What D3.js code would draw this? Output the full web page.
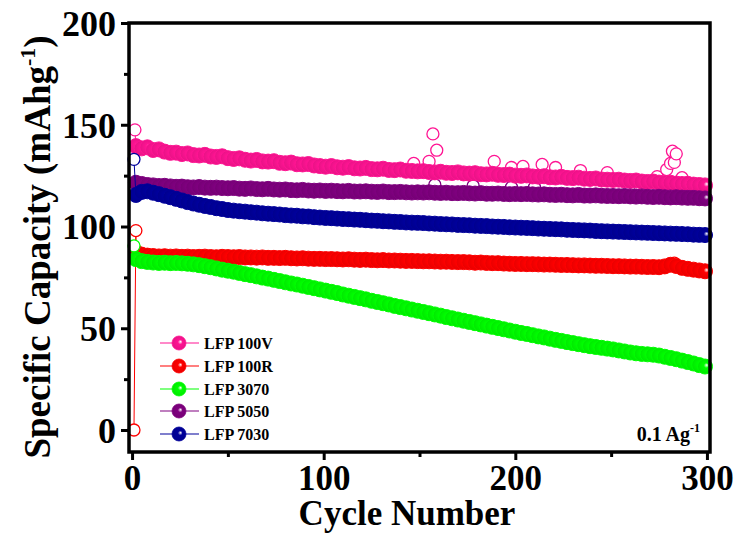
<!DOCTYPE html>
<html><head><meta charset="utf-8">
<script src="https://cdn.jsdelivr.net/npm/d3@7"></script>
<style>body{margin:0;background:#fff}svg{display:block}</style>
</head><body>
<svg id="c" width="739" height="536"></svg>
<script>
const cycles = [2,5,8,11,14,17,20,23,26,29,32,35,38,41,44,47,50,53,56,59,62,65,68,71,74,77,80,83,86,89,92,95,98,101,104,107,110,113,116,119,122,125,128,131,134,137,140,143,146,149,152,155,158,161,164,167,170,173,176,179,182,185,188,191,194,197,200,203,206,209,212,215,218,221,224,227,230,233,236,239,242,245,248,251,254,257,260,263,266,269,272,275,278,281,284,287,290,293,296,299];
const seriesNames = ["LFP 100V","LFP 100R","LFP 3070","LFP 5050","LFP 7030"];
const seriesColors = ["#ff1493","#ff0000","#00ff00","#800080","#00009c"];
const lfp100V = [139.5,138.4,138.9,137.6,137.9,136.8,136.2,
 136.3,135.6,135.9,135.1,134.9,135.2,134.4,134.2,134.5,133.6,
 133.2,133.5,132.8,132.4,132.7,132.0,131.9,132.1,131.3,131.1,131.4,130.6,130.5,130.7,130.0,129.7,
 129.4,129.7,129.1,128.9,129.2,128.6,128.5,128.8,128.2,128.1,128.4,127.8,127.7,128.0,127.4,127.3,127.1,
 127.2,126.8,126.6,126.9,126.4,126.3,126.6,126.1,126.0,126.2,125.7,125.6,125.9,125.4,125.3,125.5,125.0,
 124.9,125.1,124.6,124.5,124.7,124.2,124.1,124.4,123.9,123.8,124.0,123.5,123.4,123.6,123.1,123.0,122.9,
 123.0,122.6,122.4,122.6,122.1,121.9,122.1,121.6,121.4,121.5,121.1,120.9,121.0,120.6,120.4,120.2];
const lfp100R = [87.5,86.2,85.7,85.5,
 85.3,85.4,85.2,85.3,85.1,85.2,85.0,85.1,85.2,85.0,84.9,85.1,85.0,
 84.9,85.0,84.8,84.8,84.7,84.8,84.6,84.6,84.5,84.6,84.4,84.3,84.4,84.2,84.1,84.1,
 84.0,84.0,83.9,83.8,83.9,83.7,83.6,83.7,83.5,83.4,83.5,83.3,83.3,83.2,83.1,83.1,83.0,
 82.9,82.9,82.8,82.7,82.7,82.6,82.5,82.5,82.4,82.2,82.3,82.1,82.0,82.0,81.8,81.7,81.6,
 81.6,81.5,81.5,81.4,81.3,81.3,81.2,81.1,81.1,81.0,80.9,80.9,80.8,80.7,80.7,80.6,80.5,
 80.5,80.4,80.3,80.3,80.2,80.1,80.1,80.0,80.4,81.2,80.6,79.7,79.2,78.8,78.4,78.0];
const lfp3070 = [84.0,83.0,82.6,82.3,
 82.1,82.2,82.0,82.1,81.9,81.7,
 81.4,81.0,80.5,80.0,79.4,78.8,78.3,
 77.8,77.2,76.6,76.1,75.5,74.9,74.4,73.8,73.2,72.6,72.0,71.5,70.9,70.3,69.7,69.1,
 68.5,67.9,67.3,66.6,66.0,65.4,64.8,64.2,63.5,62.9,62.3,61.7,61.0,60.4,59.8,59.2,58.6,
 58.0,57.4,56.8,56.2,55.5,54.9,54.3,53.7,53.1,52.5,51.9,51.3,50.7,50.1,49.5,48.9,48.3,
 47.7,47.2,46.6,46.0,45.5,44.9,44.3,43.8,43.2,42.7,42.2,41.7,41.2,40.8,40.4,40.0,39.6,
 39.1,38.6,38.1,37.7,37.4,37.2,37.0,36.6,36.0,35.4,34.8,34.1,33.4,32.7,31.9,31.2];
const lfp5050 = [121.5,120.9,120.4,120.2,
 119.9,120.0,119.7,119.5,119.6,119.3,119.2,119.4,119.1,119.0,
 119.1,118.9,118.8,118.9,118.6,118.5,118.7,118.4,118.3,118.5,118.2,118.1,118.2,117.9,117.8,118.0,117.7,117.6,117.7,
 117.5,117.6,117.4,117.3,117.5,117.2,117.2,117.3,117.1,117.0,117.2,116.9,116.9,117.0,116.8,116.7,116.8,
 116.7,116.8,116.6,116.5,116.6,116.4,116.4,116.5,116.3,116.2,116.4,116.1,116.1,116.2,116.0,115.9,116.0,
 115.9,116.0,115.8,115.7,115.8,115.6,115.5,115.6,115.4,115.3,115.5,115.2,115.2,115.3,115.1,115.0,115.0,
 114.9,115.0,114.8,114.7,114.8,114.6,114.5,114.6,114.4,114.3,114.4,114.2,114.1,114.1,113.9,113.8];
const lfp7030 = [115.5,117.0,117.3,116.6,
 115.9,115.1,114.4,113.6,112.8,112.0,
 111.3,110.7,110.1,109.6,109.0,108.6,108.1,
 107.8,107.5,107.3,107.0,106.8,106.5,106.3,106.1,105.9,105.6,105.4,105.3,105.0,104.9,104.6,104.4,
 104.2,104.1,103.9,103.7,103.6,103.4,103.3,103.1,102.9,102.8,102.6,102.5,102.3,102.2,102.0,101.9,101.8,
 101.7,101.5,101.4,101.2,101.1,101.0,100.8,100.7,100.6,100.4,100.3,100.2,100.0,99.9,99.8,99.6,99.5,
 99.4,99.3,99.2,99.0,98.9,98.8,98.7,98.6,98.4,98.3,98.2,98.1,98.0,97.8,97.7,97.6,97.5,
 97.4,97.3,97.2,97.1,97.0,96.9,96.8,96.7,96.6,96.5,96.4,96.3,96.2,96.0,95.9,95.8];
const seriesValues = [lfp100V, lfp100R, lfp3070, lfp5050, lfp7030];
// first-cycle open points [cycle, value]
const firstPoints = [[[1.5,147.5]], [[1,0],[2,98]], [[1,90.5]], [], [[1,133]]];
// scattered open points [cycle, value]
const openPoints = [
 [[157,145.5],[159,137.5],[155,132],[147,131],[189,132],[198,129],[204,129.5],[214,130.5],[221,129],[234,127.5],[248,126.5],[274,124.5],[279,128],[281,131],[283,131.5],[282,137],[284,135.7],[287,124]],
 [[283,82]],
 [],
 [[158,120.5],[178,120],[198,119.3],[210,119.3],[265,118],[289,117.4]],
 []
];
const yTicks = [0,50,100,150,200];
const yMinor = [25,75,125,175];
const xTicks = [0,100,200,300];
const xMinor = [50,150,250];

const svg = d3.select("#c");
const L=129, R=710, T=23, B=452;
const x = d3.scaleLinear().domain([-1.6,301.6]).range([L,R]);
const y = d3.scaleLinear().domain([-10.8,200]).range([B,T]);
const font = "'Liberation Serif','Times New Roman',serif";

const defs = svg.append("defs");
seriesColors.forEach((c,i)=>{
  const g = defs.append("radialGradient").attr("id","g"+i)
    .attr("cx","50%").attr("cy","50%").attr("r","55%").attr("fx","62%").attr("fy","40%");
  g.append("stop").attr("offset","0%").attr("stop-color","#fff");
  g.append("stop").attr("offset","30%").attr("stop-color",c);
  g.append("stop").attr("offset","100%").attr("stop-color",d3.color(c).darker(0.3));
});

const plot = svg.append("g");
openPoints.forEach((pts,i)=>{
  plot.selectAll(null).data(pts).join("circle")
    .attr("cx",d=>x(d[0])).attr("cy",d=>y(d[1])).attr("r",6)
    .attr("fill","#fff").attr("stroke",seriesColors[i]).attr("stroke-width",1.3);
});
const line = d3.line().x(d=>x(d[0])).y(d=>y(d[1]));
seriesValues.forEach((vals,i)=>{
  const pts = vals.map((v,k)=>[cycles[k],v]);
  plot.append("path").datum(firstPoints[i].concat(pts)).attr("d",line)
    .attr("fill","none").attr("stroke",seriesColors[i]).attr("stroke-width",1);
  plot.selectAll(null).data(pts).join("circle")
    .attr("cx",d=>x(d[0])).attr("cy",d=>y(d[1])).attr("r",7.5)
    .attr("fill","url(#g"+i+")").attr("stroke",seriesColors[i]).attr("stroke-width",1);
});
firstPoints.forEach((pts,i)=>{
  plot.selectAll(null).data(pts).join("circle")
    .attr("cx",d=>x(d[0])).attr("cy",d=>y(d[1])).attr("r",6)
    .attr("fill","#fff").attr("stroke",seriesColors[i]).attr("stroke-width",1.3);
});

svg.append("rect").attr("x",L).attr("y",T).attr("width",R-L).attr("height",B-T)
  .attr("fill","none").attr("stroke","#000").attr("stroke-width",3.5);

function styleAxis(g){ g.select(".domain").remove(); g.selectAll(".tick line").attr("stroke","#000").attr("stroke-width",3); }
const yAx = svg.append("g").attr("transform",`translate(${L},0)`)
  .call(d3.axisLeft(y).tickValues(yTicks).tickSize(8).tickPadding(5).tickFormat(d3.format("d")));
styleAxis(yAx);
yAx.selectAll("text").attr("font-family",font).attr("font-weight","bold").attr("font-size",36).attr("fill","#000").attr("dy","0.34em");
const yAxm = svg.append("g").attr("transform",`translate(${L},0)`)
  .call(d3.axisLeft(y).tickValues(yMinor).tickSize(5).tickFormat(""));
styleAxis(yAxm);
const xAx = svg.append("g").attr("transform",`translate(0,${B})`)
  .call(d3.axisBottom(x).tickValues(xTicks).tickSize(8).tickPadding(5).tickFormat(d3.format("d")));
styleAxis(xAx);
xAx.selectAll("text").attr("font-family",font).attr("font-weight","bold").attr("font-size",35).attr("fill","#000").attr("dy","0.71em");
const xAxm = svg.append("g").attr("transform",`translate(0,${B})`)
  .call(d3.axisBottom(x).tickValues(xMinor).tickSize(5).tickFormat(""));
styleAxis(xAxm);

svg.append("text").attr("x",407).attr("y",525).attr("text-anchor","middle")
  .attr("font-family",font).attr("font-weight","bold").attr("font-size",35).text("Cycle Number");
const yt = svg.append("text").attr("transform","translate(50,247) rotate(-90)").attr("text-anchor","middle")
  .attr("font-family",font).attr("font-weight","bold").attr("font-size",37);
yt.append("tspan").text("Specific Capacity (mAhg");
yt.append("tspan").attr("font-size",22).attr("dy",-15).text("-1");
yt.append("tspan").attr("dy",15).text(")");

const ann = svg.append("text").attr("x",700).attr("y",441).attr("text-anchor","end")
  .attr("font-family",font).attr("font-weight","bold").attr("font-size",20);
ann.append("tspan").text("0.1 Ag");
ann.append("tspan").attr("font-size",12).attr("dy",-9).text("-1");

const lg = svg.append("g");
const rowY = [343,366,389,411,434];
seriesNames.forEach((n,i)=>{
  const g = lg.append("g").attr("transform",`translate(0,${rowY[i]})`);
  g.append("line").attr("x1",160).attr("x2",199).attr("stroke",seriesColors[i]).attr("stroke-width",1.2);
  g.append("circle").attr("cx",179).attr("r",7).attr("fill","url(#g"+i+")").attr("stroke",seriesColors[i]).attr("stroke-width",0.8);
  g.append("text").attr("x",204).attr("dy","0.35em").attr("font-family",font).attr("font-weight","bold").attr("font-size",16).text(n);
});
</script>
</body></html>
